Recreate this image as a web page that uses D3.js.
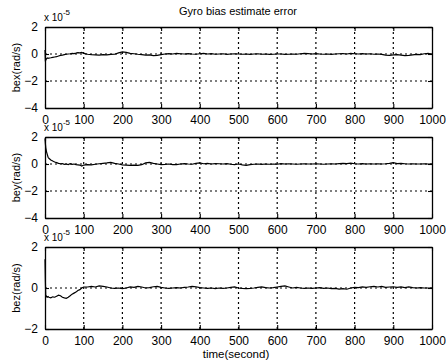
<!DOCTYPE html>
<html>
<head>
<meta charset="utf-8">
<script src="https://cdn.jsdelivr.net/npm/d3@7"></script>
<style>
  html, body { margin: 0; padding: 0; background: #fff; }
  svg { display: block; font-family: "Liberation Sans", Arial, sans-serif; }
</style>
</head>
<body>
<svg id="chart" width="446" height="364"></svg>
<script>
// Sample times (s)
const time = [0,1,2,4,6,8,10,15,20,25,30,35,40,45,50,55,60,65,70,75,80,85,90,95,100,
  110,120,130,140,150,160,170,180,190,200,210,220,230,240,250,260,270,280,290,300,
  310,320,330,340,350,360,370,380,390,400,410,420,430,440,450,460,470,480,490,500,
  510,520,530,540,550,560,570,580,590,600,610,620,630,640,650,660,670,680,690,700,
  710,720,730,740,750,760,770,780,790,800,810,820,830,840,850,860,870,880,890,900,
  910,920,930,940,950,960,970,980,990,1000];

// Bias estimate errors, in units of 1e-5 rad/s
const bex = [0.3,-0.55,-0.45,-0.35,-0.3,-0.32,-0.3,-0.28,-0.25,-0.22,-0.2,-0.15,-0.1,-0.08,-0.05,-0.02,0.0,0.02,0.05,0.03,0.06,0.1,0.08,0.12,0.05,
  -0.02,-0.05,-0.06,-0.08,-0.05,-0.06,-0.03,-0.02,0.08,0.15,
  0.12,0.05,0.02,-0.02,-0.05,-0.08,-0.06,-0.12,-0.1,-0.04,
  0.0,0.03,0.0,0.04,0.02,0.0,0.03,0.0,-0.02,0.02,
  0.05,0.0,0.03,-0.02,0.0,0.02,-0.03,0.0,0.02,0.0,
  -0.02,0.0,-0.03,0.0,0.02,-0.02,0.0,-0.03,-0.02,0.0,
  0.0,-0.03,-0.02,0.0,-0.02,0.02,0.05,0.03,0.0,0.03,
  0.0,-0.02,0.0,-0.03,0.0,0.02,0.03,0.0,0.04,0.02,
  0.0,0.03,0.0,0.02,-0.02,0.0,-0.03,-0.08,-0.1,-0.07,
  -0.05,-0.08,-0.12,-0.1,-0.06,-0.03,-0.05,0.02,0.05,-0.02];

const bey = [1.9,1.5,1.2,0.9,0.7,0.5,0.42,0.3,0.22,0.15,0.1,0.05,0.02,0.03,-0.02,0.0,-0.04,0.02,-0.03,0.0,-0.05,-0.06,-0.08,-0.15,-0.08,
  -0.05,-0.06,-0.02,0.02,0.05,0.08,0.12,0.05,0.0,-0.06,
  -0.08,-0.1,-0.08,-0.1,-0.05,0.08,0.12,0.05,0.0,-0.05,
  -0.03,0.0,-0.05,-0.04,0.0,0.03,0.0,-0.02,0.04,0.08,
  0.02,0.05,0.0,0.03,0.02,0.0,0.03,-0.02,-0.05,0.0,
  -0.06,-0.1,-0.05,-0.02,0.0,-0.03,0.0,-0.02,0.0,-0.02,
  0.03,0.0,0.02,0.0,-0.02,0.0,0.02,0.0,0.0,0.02,
  0.0,-0.02,0.0,0.02,0.0,0.03,0.05,0.03,0.06,0.02,
  0.0,0.03,0.0,0.02,0.0,0.02,0.0,0.02,0.05,0.1,
  0.03,0.05,0.02,0.0,0.02,0.0,0.0,0.02,0.0,0.0];

const bez = [1.4,0.3,-0.45,-0.4,-0.45,-0.42,-0.45,-0.48,-0.43,-0.45,-0.4,-0.35,-0.38,-0.45,-0.48,-0.5,-0.45,-0.38,-0.3,-0.25,-0.2,-0.12,-0.08,0.0,0.05,
  0.05,0.08,0.05,0.1,0.08,0.05,0.0,-0.02,0.0,-0.03,
  0.0,0.05,0.03,0.08,0.05,0.0,0.02,0.06,0.08,0.03,
  0.0,-0.02,0.0,0.02,0.0,0.03,0.05,0.08,0.06,0.02,
  0.0,-0.02,0.0,-0.03,0.0,-0.02,0.0,0.03,0.05,0.0,
  -0.02,-0.03,-0.02,0.0,0.03,0.05,0.02,0.0,0.02,0.05,
  0.08,0.1,0.05,0.0,0.03,0.0,-0.02,0.0,-0.02,0.0,
  0.02,-0.02,0.0,-0.03,-0.02,-0.05,-0.03,-0.06,0.0,0.03,
  0.02,0.05,0.03,0.06,0.08,0.05,0.08,0.03,0.05,0.06,
  0.03,0.05,0.02,0.05,0.02,0.0,0.02,0.0,0.0,0.0];

// Axis tick values and panel labels
const xTicks = [0,100,200,300,400,500,600,700,800,900,1000];
const yTicksWide = [2,0,-2,-4];
const yTicksNarrow = [2,0,-2];
const panelLabels = ["bex(rad/s)", "bey(rad/s)", "bez(rad/s)"];
const titleText = "Gyro bias estimate error";
const xLabelText = "time(second)";

const panels = [
  { values: bex, label: panelLabels[0], domain: [-4, 2], ticks: yTicksWide, top: 27, bottom: 108 },
  { values: bey, label: panelLabels[1], domain: [-4, 2], ticks: yTicksWide, top: 137, bottom: 218 },
  { values: bez, label: panelLabels[2], domain: [-2, 2], ticks: yTicksNarrow, top: 247, bottom: 329 }
];

const svg = d3.select("#chart");
const left = 45, right = 432;
const x = d3.scaleLinear().domain([0, 1000]).range([left, right]);
const fmt = d3.format("d");

svg.append("text")
  .attr("x", 238).attr("y", 15)
  .attr("text-anchor", "middle")
  .attr("font-size", 11)
  .text(titleText);

panels.forEach(p => {
  const y = d3.scaleLinear().domain(p.domain).range([p.bottom, p.top]);
  const g = svg.append("g");

  // dotted grid
  const inner = xTicks.filter(t => t > 0 && t < 1000);
  g.selectAll("line.gx").data(inner).join("line")
    .attr("x1", d => x(d)).attr("x2", d => x(d))
    .attr("y1", p.top).attr("y2", p.bottom)
    .attr("stroke", "#000").attr("stroke-width", 1.2)
    .attr("stroke-dasharray", "2,3");
  const innerY = p.ticks.filter(t => t > p.domain[0] && t < p.domain[1]);
  g.selectAll("line.gy").data(innerY).join("line")
    .attr("x1", left).attr("x2", right)
    .attr("y1", d => y(d)).attr("y2", d => y(d))
    .attr("stroke", "#000").attr("stroke-width", 1.2)
    .attr("stroke-dasharray", "2,3");

  // axes with inward ticks
  const xb = g.append("g").attr("transform", `translate(0,${p.bottom})`)
    .call(d3.axisBottom(x).tickValues(xTicks).tickFormat(fmt).tickSizeInner(-4).tickSizeOuter(0).tickPadding(7));
  const xt = g.append("g").attr("transform", `translate(0,${p.top})`)
    .call(d3.axisTop(x).tickValues(xTicks).tickSizeInner(-4).tickSizeOuter(0).tickFormat(""));
  const yl = g.append("g").attr("transform", `translate(${left},0)`)
    .call(d3.axisLeft(y).tickValues(p.ticks).tickFormat(fmt).tickSizeInner(-4).tickSizeOuter(0).tickPadding(7));
  const yr = g.append("g").attr("transform", `translate(${right},0)`)
    .call(d3.axisRight(y).tickValues(p.ticks).tickSizeInner(-4).tickSizeOuter(0).tickFormat(""));
  [xb, xt, yl, yr].forEach(a => {
    a.selectAll("path").attr("stroke", "#000").attr("stroke-width", 1.3);
    a.selectAll("line").attr("stroke", "#000").attr("stroke-width", 1.1);
    a.selectAll("text").attr("fill", "#000").attr("font-size", 12)
      .attr("font-family", "'Liberation Sans', Arial, sans-serif");
  });

  // curve
  const line = d3.line().x((d, i) => x(time[i])).y(d => y(d));
  g.append("path").datum(p.values)
    .attr("d", line)
    .attr("fill", "none").attr("stroke", "#000").attr("stroke-width", 1.2);

  // scale factor
  const ex = g.append("text").attr("x", left - 1).attr("y", p.top - 6).attr("font-size", 10);
  ex.append("tspan").text("x 10");
  ex.append("tspan").attr("dy", -6).attr("font-size", 8).text("-5");

  // y label
  svg.append("text")
    .attr("transform", `translate(20,${(p.top + p.bottom) / 2}) rotate(-90)`)
    .attr("text-anchor", "middle")
    .attr("font-size", 11)
    .text(p.label);
});

svg.append("text")
  .attr("x", 236).attr("y", 358)
  .attr("text-anchor", "middle")
  .attr("font-size", 11.5)
  .text(xLabelText);
</script>
</body>
</html>
